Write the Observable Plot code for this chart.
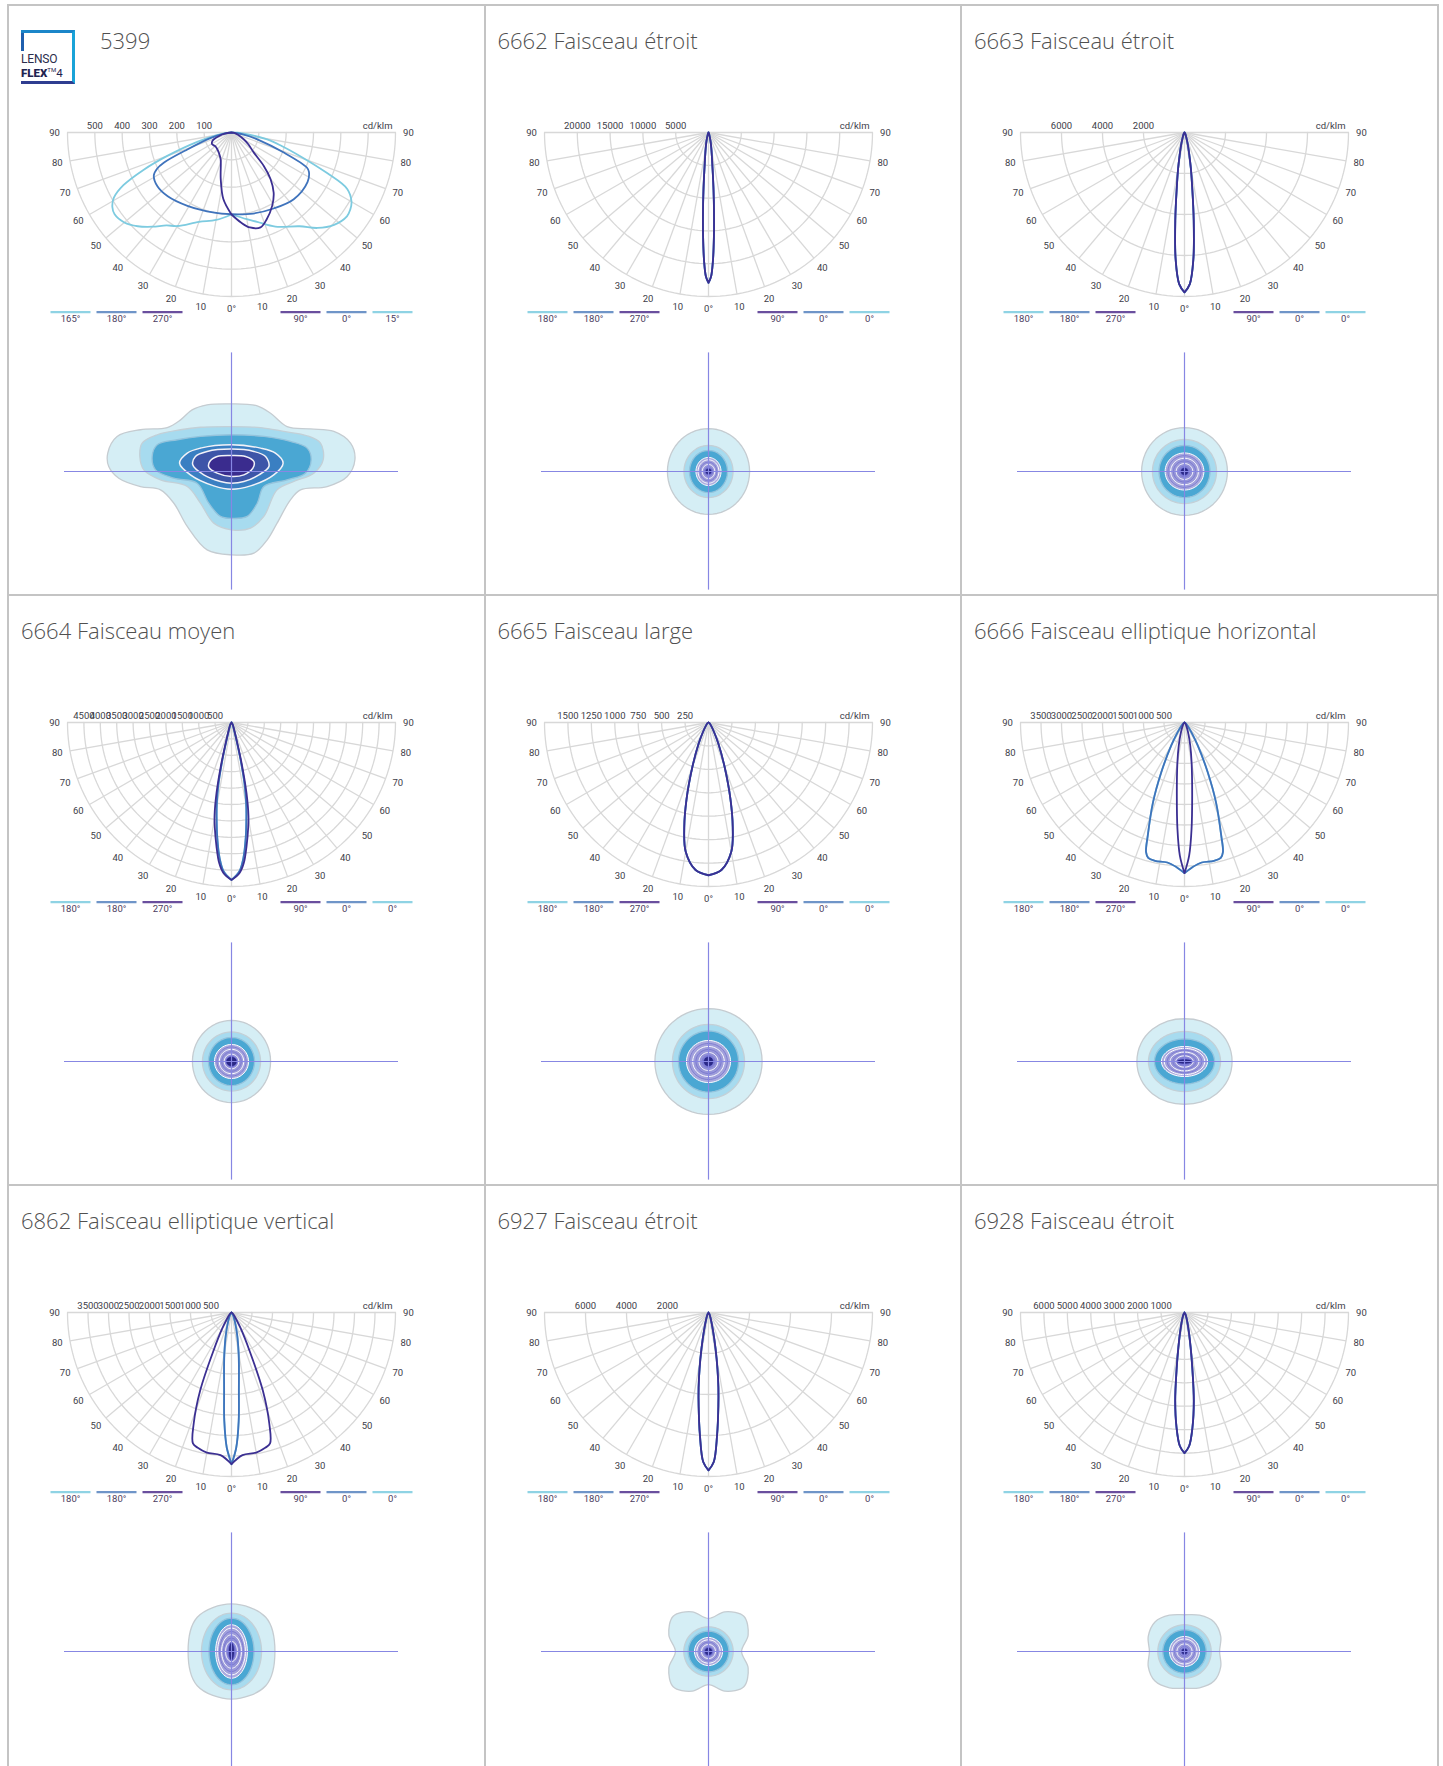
<!DOCTYPE html>
<html><head><meta charset="utf-8">
<script src="https://cdn.jsdelivr.net/npm/d3@7"></script>
<script src="https://cdn.jsdelivr.net/npm/@observablehq/plot@0.6"></script>
<style>
body{margin:0;background:#fff;width:1443px;height:1766px;overflow:hidden;position:relative;font-family:Roboto,sans-serif}
.panel{position:absolute;box-sizing:border-box;border:2px solid #c4c4c4;width:478.5px;height:592px;background:#fff}
.title{position:absolute;left:12px;top:23px;font-family:"Open Sans",sans-serif;font-weight:300;font-size:22px;line-height:22px;color:#505050;white-space:nowrap}
.polar{position:absolute;left:-2px;top:98px}
.iso{position:absolute;left:-2px;top:338px}
.logo{position:absolute;left:12px;top:24px;width:54px;height:54px;box-sizing:border-box;border-top:3px solid #1b86c9;border-right:3px solid #19a3d8;border-bottom:3px solid #2f3d90;}
.logo:before{content:"";position:absolute;left:0;top:0;width:3px;height:18px;background:#1f5fae}
.logo .l1{position:absolute;left:0;top:21px;font-family:Roboto,sans-serif;font-size:12px;line-height:10px;height:10px;color:#2b2d4c;letter-spacing:-0.2px}
.logo .l2{position:absolute;left:0;top:35px;font-family:Roboto,sans-serif;font-weight:900;font-size:11.5px;line-height:10px;height:10px;color:#1f2450;white-space:nowrap}
.logo .l2 sup{font-size:6px;font-weight:400;vertical-align:5px;line-height:0}
.logo .l2 span{font-weight:400}
</style></head><body>
<script>
// ---------------- DATA ----------------
const titles = ["5399","6662 Faisceau étroit","6663 Faisceau étroit","6664 Faisceau moyen","6665 Faisceau large","6666 Faisceau elliptique horizontal","6862 Faisceau elliptique vertical","6927 Faisceau étroit","6928 Faisceau étroit"];
const scaleMax = [600,25000,8000,5000,1750,4000,4000,8000,7000];
const ringCount = [6,5,4,10,7,8,8,4,7];
const ringLabels = [
  [500,400,300,200,100],
  [20000,15000,10000,5000],
  [6000,4000,2000],
  [4500,4000,3500,3000,2500,2000,1500,1000,500],
  [1500,1250,1000,750,500,250],
  [3500,3000,2500,2000,1500,1000,500],
  [3500,3000,2500,2000,1500,1000,500],
  [6000,4000,2000],
  [6000,5000,4000,3000,2000,1000]
];
const legendLeft_5399 = ["165°","180°","270°"], legendRight_5399 = ["90°","0°","15°"];
const legendLeft_std = ["180°","180°","270°"], legendRight_std = ["90°","0°","0°"];

// intensity curves: [gamma (deg), cd/klm]
const c5399_cyanL = [[0,300],[10,325],[20,348],[30,395],[35,415],[40,450],[45,485],[50,512],[55,522],[58,514],[61,492],[64,440],[67,350],[70,250],[75,125],[80,50],[85,15],[90,0]];
const c5399_cyanR = [[0,300],[10,322],[16,340],[25,380],[36,424],[42,470],[48,505],[54,522],[57,518],[60,507],[64,471],[67,380],[71,266],[75,190],[79,133],[85,40],[90,0]];
const c5399_blueL = [[0,299],[12,300],[31,313],[45,330],[54,335],[61,325],[64,303],[66,270],[69,173],[75,80],[80,35],[90,0]];
const c5399_blueR = [[0,299],[15,307],[29,318],[43,334],[57,332],[63,318],[65,305],[69,205],[75,100],[80,45],[90,0]];
const c5399_purpL = [[0,300],[7,245],[13,175],[22,106],[30,90],[41,80],[50,78],[59,83],[65,78],[69,69],[75,45],[80,25],[90,0]];
const c5399_purpR = [[0,300],[6,331],[11,354],[17,363],[22,343],[29,307],[35,269],[40,222],[44,170],[48,110],[55,75],[61,51],[70,25],[80,10],[90,0]];

const c6662 = [[0,22900],[1,22000],[2,19500],[3,15800],[4,12000],[5,8800],[6,6300],[7,4700],[8,3700],[10,2500],[12,1700],[15,900],[20,350],[30,100],[45,30],[60,10],[90,0]];
const c6663 = [[0,7800],[2,7400],[4,6200],[6,4300],[8,2700],[10,1800],[12,1150],[15,650],[20,250],[30,80],[45,20],[90,0]];
const c6664_purp = [[0,4800],[3,4600],[5,4300],[7,3780],[9,3250],[10.3,2890],[12,2200],[14,1260],[16,600],[20,250],[30,80],[90,0]];
const c6664_blue = [[0,4800],[3,4550],[5,4150],[7,3550],[9,2900],[10.3,2500],[12,1900],[14,1050],[16,500],[20,200],[30,60],[90,0]];
const c6665 = [[0,1630],[5,1580],[10,1400],[13,1150],[16,850],[20,500],[25,250],[30,120],[40,40],[60,10],[90,0]];
const c6666_wide = [[0,3675],[3,3540],[7,3440],[12,3450],[15,3420],[16.5,3300],[18,2900],[21.5,2100],[25,1340],[30,650],[35,300],[45,100],[60,30],[90,0]];
const c6666_narrow = [[0,3675],[2,3250],[3.8,2600],[6,1790],[10,1000],[14,580],[20,250],[30,80],[45,20],[90,0]];
const c6862_wide = [[0,3700],[4.4,3490],[10,3470],[14,3400],[16.4,3330],[18.8,2860],[21.9,2040],[25.3,1017],[30,450],[35,200],[45,70],[60,20],[90,0]];
const c6862_narrow = [[0,3700],[2,3300],[3.8,2650],[5.4,1910],[8,1300],[10,1000],[14,580],[20,250],[30,80],[90,0]];
const c6927 = [[0,7700],[2,7300],[4,6000],[6,4600],[7.5,3700],[9,2800],[11,1800],[14,900],[20,300],[30,80],[90,0]];
const c6928 = [[0,6000],[2,5700],[4,4900],[6,3800],[8,2400],[10,1500],[13,800],[20,250],[30,60],[90,0]];

// isolux zones (units: crosshair half-width = 10). [x,y] point lists, [rx,ry] ellipses, or radii lists (CCW from east)
const iso5399_outer = [[0,4.05],[-1.46,3.99],[-2.36,3.69],[-3.05,3.09],[-3.85,2.63],[-5.45,2.50],[-6.85,2.10],[-7.41,1.10],[-7.35,0.30],[-6.75,-0.40],[-5.45,-0.90],[-4.25,-1.10],[-3.45,-1.90],[-2.65,-3.29],[-1.46,-4.69],[0,-4.99],[1.34,-4.89],[2.14,-4.09],[2.73,-3.09],[3.53,-1.70],[4.13,-1.10],[5.73,-0.90],[6.93,-0.30],[7.39,0.70],[7.13,1.70],[6.13,2.40],[4.73,2.55],[3.33,2.69],[2.34,3.49],[1.54,3.93]];
const iso5399_light = [[0,2.69],[-1.86,2.65],[-3.05,2.50],[-4.45,2.20],[-5.35,1.70],[-5.49,0.90],[-5.25,0.10],[-4.25,-0.50],[-2.65,-0.90],[-1.86,-1.90],[-1.06,-3.09],[0,-3.49],[1.14,-3.39],[1.94,-2.69],[2.73,-1.10],[3.73,-0.60],[4.93,-0.10],[5.49,0.70],[5.33,1.70],[4.53,2.14],[3.13,2.40],[1.74,2.63]];
const iso5399_mid = [[0,2.20],[-1.86,2.10],[-3.25,1.90],[-4.45,1.60],[-4.75,0.90],[-4.55,0.10],[-3.45,-0.40],[-2.06,-0.70],[-1.36,-1.90],[-0.66,-2.69],[0,-2.81],[0.94,-2.69],[1.54,-1.90],[1.94,-0.90],[3.33,-0.50],[4.43,-0.10],[4.77,0.70],[4.53,1.40],[3.53,1.80],[1.94,2.10]];
const iso5399_d1 = [[0,1.60],[-1.86,1.40],[-2.65,1.10],[-3.11,0.50],[-2.46,-0.20],[-1.06,-0.86],[0,-1.06],[1.14,-0.86],[2.53,-0.20],[3.09,0.50],[2.63,1.10],[1.74,1.40]];
const iso5399_d2 = [[0,1.34],[-1.46,1.20],[-2.16,0.90],[-2.32,0.40],[-1.66,-0.20],[-0.66,-0.60],[0,-0.70],[0.74,-0.60],[1.64,-0.20],[2.24,0.30],[2.04,0.90],[1.34,1.20]];
const iso5399_d3 = [[0,0.96],[-0.86,0.90],[-1.30,0.60],[-1.36,0.26],[-0.86,-0.10],[0,-0.30],[0.74,-0.20],[1.28,0.20],[1.34,0.60],[0.84,0.90]];

const iso6662 = [[2.46,2.57],[1.47,1.56],[1.14,1.26]], rings6662 = [0.75,0.84,6], core6662 = [0.2,0.2];
const iso6663 = [[2.57,2.63],[1.92,1.92],[1.53,1.56]], rings6663 = [1.16,1.11,7], core6663 = [0.24,0.24];
const iso6664 = [[2.34,2.46],[1.74,1.77],[1.38,1.44]], rings6664 = [1.02,1.02,7], core6664 = [0.33,0.30];
const iso6665 = [[3.21,3.17],[2.16,2.22],[1.80,1.83]], rings6665 = [1.32,1.26,7], core6665 = [0.3,0.3];
const iso6666 = [[2.85,2.82,2.72,2.62,2.56,2.62,2.72,2.82,2.85,2.82,2.72,2.62,2.56,2.62,2.72,2.82],[2.16,1.80],[1.80,1.35]], rings6666 = [1.38,0.90,8], core6666 = [0.48,0.15];
const iso6862 = [[2.6,2.9,2.85,2.9,2.6,2.9,2.85,2.9],[1.8,2.3],[1.35,2.0]], rings6862 = [0.95,1.6,8], core6862 = [0.18,0.55];
const iso6927 = [[1.98,2.57,2.99,2.57,1.98,2.57,2.99,2.57,1.98,2.57,2.99,2.57,1.98,2.57,2.99,2.57],[1.48,1.48],[1.22,1.22]], rings6927 = [0.84,0.84,6], core6927 = [0.24,0.24];
const iso6928 = [[2.1,2.35,2.5,2.35,2.2,2.35,2.5,2.35,2.1,2.35,2.5,2.35,2.2,2.35,2.5,2.35],[1.6,1.6],[1.3,1.3]], rings6928 = [0.9,0.9,6], core6928 = [0.2,0.2];

// ---------------- BUILD ----------------
const CURVE = {cyan:"#7dcbe0", blue:"#3f73bc", purple:"#3b2f92"};
const LEG = {cyan:"#8fd3e4", blue:"#6f95c8", purple:"#6a4f9e"};
const panels = [
  {curves:[[c5399_cyanL,c5399_cyanR,"cyan"],[c5399_blueL,c5399_blueR,"blue"],[c5399_purpL,c5399_purpR,"purple"]], legL:legendLeft_5399, legR:legendRight_5399, iso:[iso5399_outer,iso5399_light,iso5399_mid], inner:[iso5399_d1,iso5399_d2,iso5399_d3]},
  {curves:[[c6662,c6662,"cyan"],[c6662,c6662,"blue"],[c6662,c6662,"purple"]], iso:iso6662, rings:rings6662, core:core6662},
  {curves:[[c6663,c6663,"cyan"],[c6663,c6663,"blue"],[c6663,c6663,"purple"]], iso:iso6663, rings:rings6663, core:core6663},
  {curves:[[c6664_blue,c6664_blue,"cyan"],[c6664_blue,c6664_blue,"blue"],[c6664_purp,c6664_purp,"purple"]], iso:iso6664, rings:rings6664, core:core6664},
  {curves:[[c6665,c6665,"cyan"],[c6665,c6665,"blue"],[c6665,c6665,"purple"]], iso:iso6665, rings:rings6665, core:core6665},
  {curves:[[c6666_wide,c6666_wide,"cyan"],[c6666_wide,c6666_wide,"blue"],[c6666_narrow,c6666_narrow,"purple"]], iso:iso6666, rings:rings6666, core:core6666},
  {curves:[[c6862_narrow,c6862_narrow,"cyan"],[c6862_narrow,c6862_narrow,"blue"],[c6862_wide,c6862_wide,"purple"]], iso:iso6862, rings:rings6862, core:core6862},
  {curves:[[c6927,c6927,"cyan"],[c6927,c6927,"blue"],[c6927,c6927,"purple"]], iso:iso6927, rings:rings6927, core:core6927},
  {curves:[[c6928,c6928,"cyan"],[c6928,c6928,"blue"],[c6928,c6928,"purple"]], iso:iso6928, rings:rings6928, core:core6928}
];
const rad = Math.PI/180;

function polarPlot(i){
  const p = panels[i], max = scaleMax[i], n = ringCount[i];
  const ringPts = [];
  for (let k=1;k<=n;k++) for (let a=-90;a<=90;a+=2) ringPts.push({k, x:k/n*Math.sin(a*rad), y:k/n*Math.cos(a*rad)});
  const spokes = d3.range(-90,91,10).map(a => ({x:Math.sin(a*rad), y:Math.cos(a*rad)}));
  const angLab = [];
  for (let a=10;a<=90;a+=10){ angLab.push({a:-a,t:String(a)}); angLab.push({a:a,t:String(a)}); }
  const toXY = (s) => ([g,v]) => ({x:s*v/max*Math.sin(g*rad), y:v/max*Math.cos(g*rad)});
  const curveMarks = p.curves.map(([L,R,c]) => Plot.line([...L.slice().reverse().map(toXY(-1)), ...R.map(toXY(1))], {x:"x", y:"y", stroke:CURVE[c], strokeWidth:1.8, curve:"catmull-rom"}));
  const legL = p.legL || legendLeft_std, legR = p.legR || legendRight_std;
  const segW = 40/164, gap = 6/164, start = 181/164;
  const legend = [];
  ["cyan","blue","purple"].forEach((c,j) => legend.push({x1:-start + j*(segW+gap), c, t:legL[j]}));
  ["purple","blue","cyan"].forEach((c,j) => legend.push({x1:start - (3-j)*(segW+gap) + gap, c, t:legR[j]}));
  return Plot.plot({
    width:448, height:232, margin:0,
    x:{type:"linear", domain:[-1,1], range:[60,388], axis:null},
    y:{type:"linear", domain:[0,1], range:[28,192], axis:null},
    style:{background:"transparent", overflow:"visible", fontFamily:"Roboto, sans-serif"},
    marks:[
      Plot.line(ringPts, {x:"x", y:"y", z:"k", stroke:"#d8d8d8", strokeWidth:1.3}),
      Plot.link(spokes, {x1:0, y1:0, x2:"x", y2:"y", stroke:"#d8d8d8", strokeWidth:1.3}),
      ...curveMarks,
      Plot.text(ringLabels[i], {x:d => -d/max, y:0, dy:-7, text:d => String(d), fontSize:9.5, fill:"#3d3d48"}),
      Plot.text(["cd/klm"], {x:1, y:0, dy:-7, dx:-3, textAnchor:"end", text:d=>d, fontSize:9.5, fill:"#3d3d48"}),
      Plot.text(angLab, {x:d => 1.079*Math.sin(d.a*rad), y:d => 1.079*Math.cos(d.a*rad), text:"t", fontSize:9.5, fill:"#3d3d48"}),
      Plot.text(["0°"], {x:0, y:1.073, text:d=>d, fontSize:9.5, fill:"#3d3d48"}),
      Plot.link(legend, {x1:"x1", x2:d => d.x1+segW, y1:1.0957, y2:1.0957, stroke:d => LEG[d.c], strokeWidth:2.2}),
      Plot.text(legend, {x:d => d.x1+segW/2, y:1.134, text:"t", fontSize:9.5, fill:"#4b3d5e"})
    ]
  });
}

function shapePts(z){
  if (Array.isArray(z[0])) return z.map(([x,y]) => ({x,y}));
  if (z.length === 2) return d3.range(0,360,6).map(a => ({x:z[0]*Math.cos(a*rad), y:z[1]*Math.sin(a*rad)}));
  return z.map((r,k) => ({x:r*Math.cos(k*2*Math.PI/z.length), y:r*Math.sin(k*2*Math.PI/z.length)}));
}
function shapeMark(z, opts){
  const curve = Array.isArray(z[0]) ? "catmull-rom-closed" : (z.length === 2 ? "linear-closed" : "catmull-rom-closed");
  return Plot.line(shapePts(z), {x:"x", y:"y", curve, ...opts});
}
function isoPlot(i){
  const p = panels[i];
  const fills = ["#d5eef5","#a7dbef","#4aa7d3"], strokes = ["#c5ccd1","#c3d0d7","#94c3dc"];
  const marks = p.iso.map((z,k) => shapeMark(z, {fill:fills[k], stroke:strokes[k], strokeWidth:1.3}));
  if (p.inner){
    const f = ["#3a7fc2","#3d55a8","#3a2c8e"];
    p.inner.forEach((z,k) => marks.push(shapeMark(z, {fill:f[k], stroke:"#f2f2f8", strokeWidth:1.5})));
  }
  if (p.rings){
    const [rx,ry,cnt] = p.rings;
    marks.push(shapeMark([rx,ry], {fill:"#aaa9de", stroke:"#ffffff", strokeWidth:1}));
    for (let k=cnt-1;k>=1;k--){
      const f = k/cnt;
      marks.push(shapeMark([rx*f,ry*f], {fill:"#7f7ed4", fillOpacity:0.16, stroke:k%2?"#ffffff":"#6e6dcc", strokeWidth:k%2?1:0.7}));
    }
    marks.push(shapeMark(p.core, {fill:"#2b2987", stroke:"#7070dd", strokeWidth:0.8}));
  }
  marks.push(Plot.ruleX([0], {y1:-7.1, y2:7.1, stroke:"#8787e3", strokeWidth:1.2}));
  marks.push(Plot.ruleY([0], {x1:-10, x2:10, stroke:"#8787e3", strokeWidth:1.2}));
  return Plot.plot({
    width:448, height:250, margin:0,
    x:{type:"linear", domain:[-10,10], range:[57,391], axis:null},
    y:{type:"linear", domain:[-7.1,7.1], range:[245.6,8.4], axis:null},
    style:{background:"transparent", overflow:"visible"},
    marks
  });
}

titles.forEach((t,i) => {
  const col = i%3, row = Math.floor(i/3);
  const div = document.createElement("div");
  div.className = "panel";
  div.style.left = (7 + col*476.5) + "px";
  div.style.top = (4 + row*590) + "px";
  const title = document.createElement("div");
  title.className = "title"; title.textContent = t;
  if (i === 0){
    title.style.left = "91px";
    const logo = document.createElement("div");
    logo.className = "logo";
    logo.innerHTML = '<div class="l1">LENSO</div><div class="l2">FLEX<sup>TM</sup><span>4</span></div>';
    div.appendChild(logo);
  }
  div.appendChild(title);
  const pp = polarPlot(i); pp.classList.add("polar"); div.appendChild(pp);
  const ip = isoPlot(i); ip.classList.add("iso"); div.appendChild(ip);
  document.body.appendChild(div);
});
</script>
</body></html>
